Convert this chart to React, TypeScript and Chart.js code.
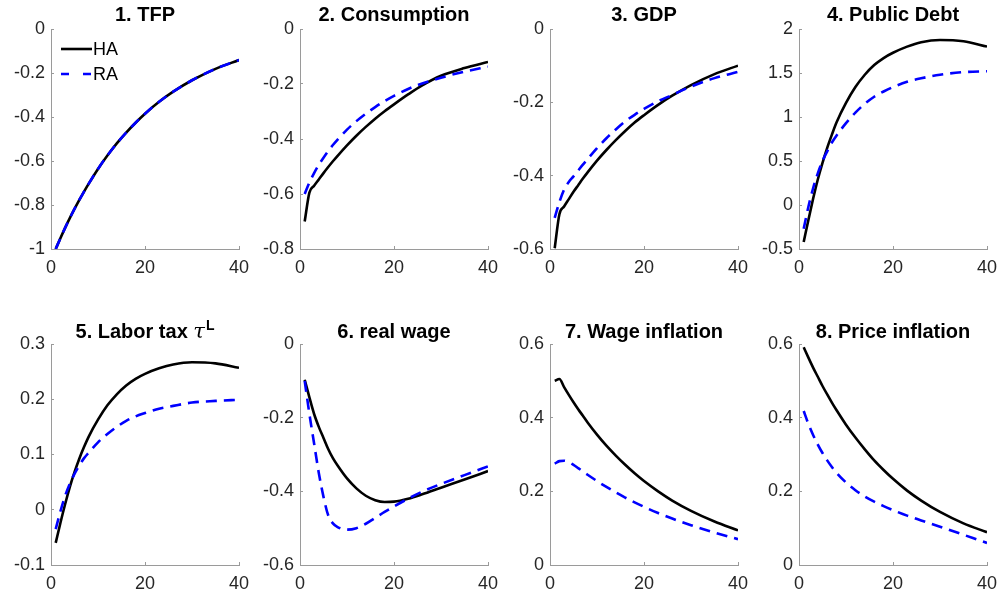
import React, { useEffect, useRef } from 'react';
import { Chart, registerables } from 'chart.js';
Chart.register(...registerables);

// ---------- data ----------
const periods = [1, 2, 3, 4, 5, 6, 7, 8, 10, 12, 14, 16, 18, 20, 23, 26, 30, 35, 40];
const xTicks = [0, 20, 40];
const xTickLabels = ['0', '20', '40'];
const seriesNames = ['HA', 'RA'];

const tfpHA = [-1, -0.951, -0.904, -0.86, -0.818, -0.778, -0.74, -0.704, -0.636, -0.575, -0.52, -0.471, -0.426, -0.385, -0.331, -0.285, -0.233, -0.181, -0.141];
const tfpRA = [-1, -0.951, -0.904, -0.86, -0.818, -0.778, -0.74, -0.704, -0.636, -0.575, -0.52, -0.471, -0.426, -0.385, -0.331, -0.285, -0.233, -0.181, -0.141];
const tfpYTicks = [-1, -0.8, -0.6, -0.4, -0.2, 0];
const tfpYLabels = ['-1', '-0.8', '-0.6', '-0.4', '-0.2', '0'];

const consHA = [-0.7, -0.595, -0.57, -0.547, -0.524, -0.502, -0.481, -0.461, -0.423, -0.388, -0.356, -0.326, -0.299, -0.274, -0.238, -0.205, -0.17, -0.142, -0.12];
const consRA = [-0.6, -0.558, -0.524, -0.494, -0.468, -0.444, -0.422, -0.402, -0.366, -0.335, -0.308, -0.284, -0.262, -0.243, -0.218, -0.198, -0.177, -0.155, -0.137];
const consYTicks = [-0.8, -0.6, -0.4, -0.2, 0];
const consYLabels = ['-0.8', '-0.6', '-0.4', '-0.2', '0'];

const gdpHA = [-0.598, -0.505, -0.484, -0.464, -0.444, -0.426, -0.408, -0.391, -0.359, -0.33, -0.303, -0.278, -0.255, -0.235, -0.207, -0.182, -0.153, -0.123, -0.1];
const gdpRA = [-0.515, -0.472, -0.438, -0.417, -0.402, -0.386, -0.37, -0.355, -0.325, -0.298, -0.274, -0.252, -0.234, -0.218, -0.197, -0.18, -0.157, -0.134, -0.117];
const gdpYTicks = [-0.6, -0.4, -0.2, 0];
const gdpYLabels = ['-0.6', '-0.4', '-0.2', '0'];

const debtHA = [-0.42, -0.17, 0.07, 0.29, 0.48, 0.65, 0.8, 0.94, 1.16, 1.34, 1.48, 1.59, 1.67, 1.73, 1.8, 1.85, 1.875, 1.86, 1.8];
const debtRA = [-0.27, -0.02, 0.19, 0.36, 0.5, 0.61, 0.71, 0.79, 0.93, 1.05, 1.15, 1.23, 1.29, 1.34, 1.4, 1.44, 1.48, 1.51, 1.52];
const debtYTicks = [-0.5, 0, 0.5, 1, 1.5, 2];
const debtYLabels = ['-0.5', '0', '0.5', '1', '1.5', '2'];

const taxHA = [-0.06, -0.024, 0.01, 0.041, 0.068, 0.092, 0.113, 0.132, 0.163, 0.189, 0.209, 0.225, 0.237, 0.246, 0.256, 0.263, 0.267, 0.265, 0.257];
const taxRA = [-0.035, -0.003, 0.025, 0.047, 0.065, 0.08, 0.093, 0.103, 0.122, 0.137, 0.15, 0.161, 0.169, 0.175, 0.183, 0.188, 0.194, 0.197, 0.199];
const taxYTicks = [-0.1, 0, 0.1, 0.2, 0.3];
const taxYLabels = ['-0.1', '0', '0.1', '0.2', '0.3'];

const wageHA = [-0.097, -0.145, -0.19, -0.225, -0.255, -0.285, -0.31, -0.33, -0.365, -0.392, -0.412, -0.424, -0.429, -0.428, -0.42, -0.408, -0.39, -0.368, -0.345];
const wageRA = [-0.1, -0.19, -0.27, -0.35, -0.415, -0.465, -0.487, -0.497, -0.504, -0.5, -0.488, -0.472, -0.456, -0.441, -0.42, -0.401, -0.38, -0.356, -0.332];
const wageYTicks = [-0.6, -0.4, -0.2, 0];
const wageYLabels = ['-0.6', '-0.4', '-0.2', '0'];

const winfHA = [0.5, 0.505, 0.483, 0.462, 0.442, 0.423, 0.405, 0.387, 0.354, 0.324, 0.297, 0.272, 0.249, 0.228, 0.2, 0.175, 0.147, 0.118, 0.094];
const winfRA = [0.275, 0.282, 0.283, 0.279, 0.272, 0.263, 0.254, 0.245, 0.228, 0.212, 0.197, 0.183, 0.17, 0.158, 0.141, 0.126, 0.108, 0.088, 0.07];
const winfYTicks = [0, 0.2, 0.4, 0.6];
const winfYLabels = ['0', '0.2', '0.4', '0.6'];

const pinfHA = [0.591, 0.563, 0.536, 0.511, 0.486, 0.463, 0.441, 0.42, 0.381, 0.346, 0.314, 0.284, 0.258, 0.234, 0.202, 0.175, 0.144, 0.113, 0.089];
const pinfRA = [0.418, 0.383, 0.353, 0.327, 0.304, 0.284, 0.266, 0.25, 0.224, 0.203, 0.186, 0.172, 0.16, 0.149, 0.134, 0.121, 0.104, 0.082, 0.06];
const pinfYTicks = [0, 0.2, 0.4, 0.6];
const pinfYLabels = ['0', '0.2', '0.4', '0.6'];

const titles = ['1. TFP', '2. Consumption', '3. GDP', '4. Public Debt', '5. Labor tax ', '6. real wage', '7. Wage inflation', '8. Price inflation'];
const titleSymbol5 = '\u03C4';
const titleSup5 = 'L';

// ---------- styling / layout ----------
const FONT = '"Liberation Sans", Arial, Helvetica, sans-serif';
const AXIS_COLOR = '#9a9a9a';
const TEXT_COLOR = '#262626';
const HA_COLOR = '#000000';
const RA_COLOR = '#0000ff';
const DASH = [11, 7];
const LINE_W = 2.6;

const CANVAS_LEFTS = [0, 249, 499, 748];
const Y_AXIS_W = 51;
const PLOT_W = 188;
const PAD_RIGHT = 22;
const CANVAS_W = Y_AXIS_W + PLOT_W + PAD_RIGHT;
const ROWS = [
  { top: 0, height: 290, padTop: 29, xAxisH: 41, titleBase: 21 },
  { top: 300, height: 297, padTop: 44, xAxisH: 32, titleBase: 38 },
];

type Panel = {
  title: string; sym?: string; sup?: string;
  ha: number[]; ra: number[]; yTicks: number[]; yLabels: string[]; legend?: boolean;
};

const panels: Panel[] = [
  { title: titles[0], ha: tfpHA, ra: tfpRA, yTicks: tfpYTicks, yLabels: tfpYLabels, legend: true },
  { title: titles[1], ha: consHA, ra: consRA, yTicks: consYTicks, yLabels: consYLabels },
  { title: titles[2], ha: gdpHA, ra: gdpRA, yTicks: gdpYTicks, yLabels: gdpYLabels },
  { title: titles[3], ha: debtHA, ra: debtRA, yTicks: debtYTicks, yLabels: debtYLabels },
  { title: titles[4], sym: titleSymbol5, sup: titleSup5, ha: taxHA, ra: taxRA, yTicks: taxYTicks, yLabels: taxYLabels },
  { title: titles[5], ha: wageHA, ra: wageRA, yTicks: wageYTicks, yLabels: wageYLabels },
  { title: titles[6], ha: winfHA, ra: winfRA, yTicks: winfYTicks, yLabels: winfYLabels },
  { title: titles[7], ha: pinfHA, ra: pinfRA, yTicks: pinfYTicks, yLabels: pinfYLabels },
];

function labelFor(ticks: number[], labels: string[], v: number) {
  for (let i = 0; i < ticks.length; i++) if (Math.abs(ticks[i] - v) < 1e-9) return labels[i];
  return '';
}

function PanelChart({ panel, col, row }: { panel: Panel; col: number; row: number }) {
  const ref = useRef<HTMLCanvasElement | null>(null);
  const r = ROWS[row];
  useEffect(() => {
    if (!ref.current) return;
    const titlePlugin = {
      id: 'panelTitle',
      afterDraw(chart: any) {
        const ctx = chart.ctx;
        const ca = chart.chartArea;
        const cx = (ca.left + ca.right) / 2;
        ctx.save();
        ctx.fillStyle = '#000';
        ctx.textBaseline = 'alphabetic';
        ctx.textAlign = 'left';
        const mainFont = `bold 20px ${FONT}`;
        const symFont = `italic 21px "DejaVu Serif", "Liberation Serif", serif`;
        const supFont = `bold 14px ${FONT}`;
        ctx.font = mainFont;
        const wMain = ctx.measureText(panel.title).width;
        let wSym = 0, wSup = 0;
        if (panel.sym) { ctx.font = symFont; wSym = ctx.measureText(panel.sym).width + 1; }
        if (panel.sup) { ctx.font = supFont; wSup = ctx.measureText(panel.sup).width; }
        let x = cx - (wMain + wSym + wSup) / 2;
        ctx.font = mainFont;
        ctx.fillText(panel.title, x, r.titleBase);
        x += wMain;
        if (panel.sym) { ctx.font = symFont; ctx.fillText(panel.sym, x, r.titleBase); x += wSym; }
        if (panel.sup) { ctx.font = supFont; ctx.fillText(panel.sup, x, r.titleBase - 8); }
        ctx.restore();
      },
    };
    const legendPlugin = {
      id: 'panelLegend',
      afterDraw(chart: any) {
        if (!panel.legend) return;
        const ctx = chart.ctx;
        const ca = chart.chartArea;
        const x0 = ca.left + 10;
        const x1 = ca.left + 41;
        const rowsY = [ca.top + 20, ca.top + 45];
        const styles = [
          { color: HA_COLOR, dash: [] as number[] },
          { color: RA_COLOR, dash: [8, 14] },
        ];
        ctx.save();
        for (let i = 0; i < 2; i++) {
          ctx.beginPath();
          ctx.strokeStyle = styles[i].color;
          ctx.lineWidth = LINE_W;
          ctx.setLineDash(styles[i].dash);
          ctx.moveTo(x0, rowsY[i]);
          ctx.lineTo(x1, rowsY[i]);
          ctx.stroke();
          ctx.setLineDash([]);
          ctx.fillStyle = '#000';
          ctx.font = `18px ${FONT}`;
          ctx.textBaseline = 'middle';
          ctx.textAlign = 'left';
          ctx.fillText(seriesNames[i], x1 + 1, rowsY[i] + 1.5);
        }
        ctx.restore();
      },
    };
    const chart = new Chart(ref.current, {
      type: 'line',
      data: {
        datasets: [
          {
            label: seriesNames[0],
            data: periods.map((t, i) => ({ x: t, y: panel.ha[i] })),
            borderColor: HA_COLOR, borderWidth: LINE_W, pointRadius: 0,
            cubicInterpolationMode: 'monotone', order: 1, fill: false,
          },
          {
            label: seriesNames[1],
            data: periods.map((t, i) => ({ x: t, y: panel.ra[i] })),
            borderColor: RA_COLOR, borderWidth: LINE_W, borderDash: DASH, pointRadius: 0,
            cubicInterpolationMode: 'monotone', order: 0, fill: false,
          },
        ],
      },
      options: {
        responsive: false,
        animation: false,
        devicePixelRatio: 1,
        events: [],
        layout: { padding: { top: r.padTop, right: PAD_RIGHT, left: 0, bottom: 0 } },
        plugins: { legend: { display: false }, title: { display: false }, tooltip: { enabled: false } },
        scales: {
          x: {
            type: 'linear', min: 0, max: 40,
            afterBuildTicks: (s: any) => { s.ticks = xTicks.map((v) => ({ value: v })); },
            afterFit: (s: any) => { s.height = r.xAxisH; },
            ticks: {
              autoSkip: false, maxRotation: 0, padding: 11, color: TEXT_COLOR,
              font: { family: FONT, size: 18 },
              callback: (v: any) => labelFor(xTicks, xTickLabels, Number(v)),
            },
            grid: { drawOnChartArea: false, tickLength: -3, color: AXIS_COLOR, lineWidth: 1 },
            border: { display: true, color: AXIS_COLOR, width: 1 },
          },
          y: {
            type: 'linear',
            min: panel.yTicks[0], max: panel.yTicks[panel.yTicks.length - 1],
            afterBuildTicks: (s: any) => { s.ticks = panel.yTicks.map((v) => ({ value: v })); },
            afterFit: (s: any) => { s.width = Y_AXIS_W; },
            ticks: {
              autoSkip: false, padding: 9, color: TEXT_COLOR,
              font: { family: FONT, size: 18 },
              callback: (v: any) => labelFor(panel.yTicks, panel.yLabels, Number(v)),
            },
            grid: { drawOnChartArea: false, tickLength: -3, color: AXIS_COLOR, lineWidth: 1 },
            border: { display: true, color: AXIS_COLOR, width: 1 },
          },
        },
      } as any,
      plugins: [titlePlugin, legendPlugin],
    });
    return () => chart.destroy();
  }, []);
  return (
    <canvas
      ref={ref}
      width={CANVAS_W}
      height={r.height}
      style={{ position: 'absolute', left: CANVAS_LEFTS[col], top: r.top, width: CANVAS_W, height: r.height }}
    />
  );
}

export default function App() {
  return (
    <div style={{ position: 'absolute', left: 0, top: 0, width: 1002, height: 597, background: '#fff', overflow: 'hidden' }}>
      {panels.map((p, i) => (
        <PanelChart key={i} panel={p} col={i % 4} row={Math.floor(i / 4)} />
      ))}
    </div>
  );
}
